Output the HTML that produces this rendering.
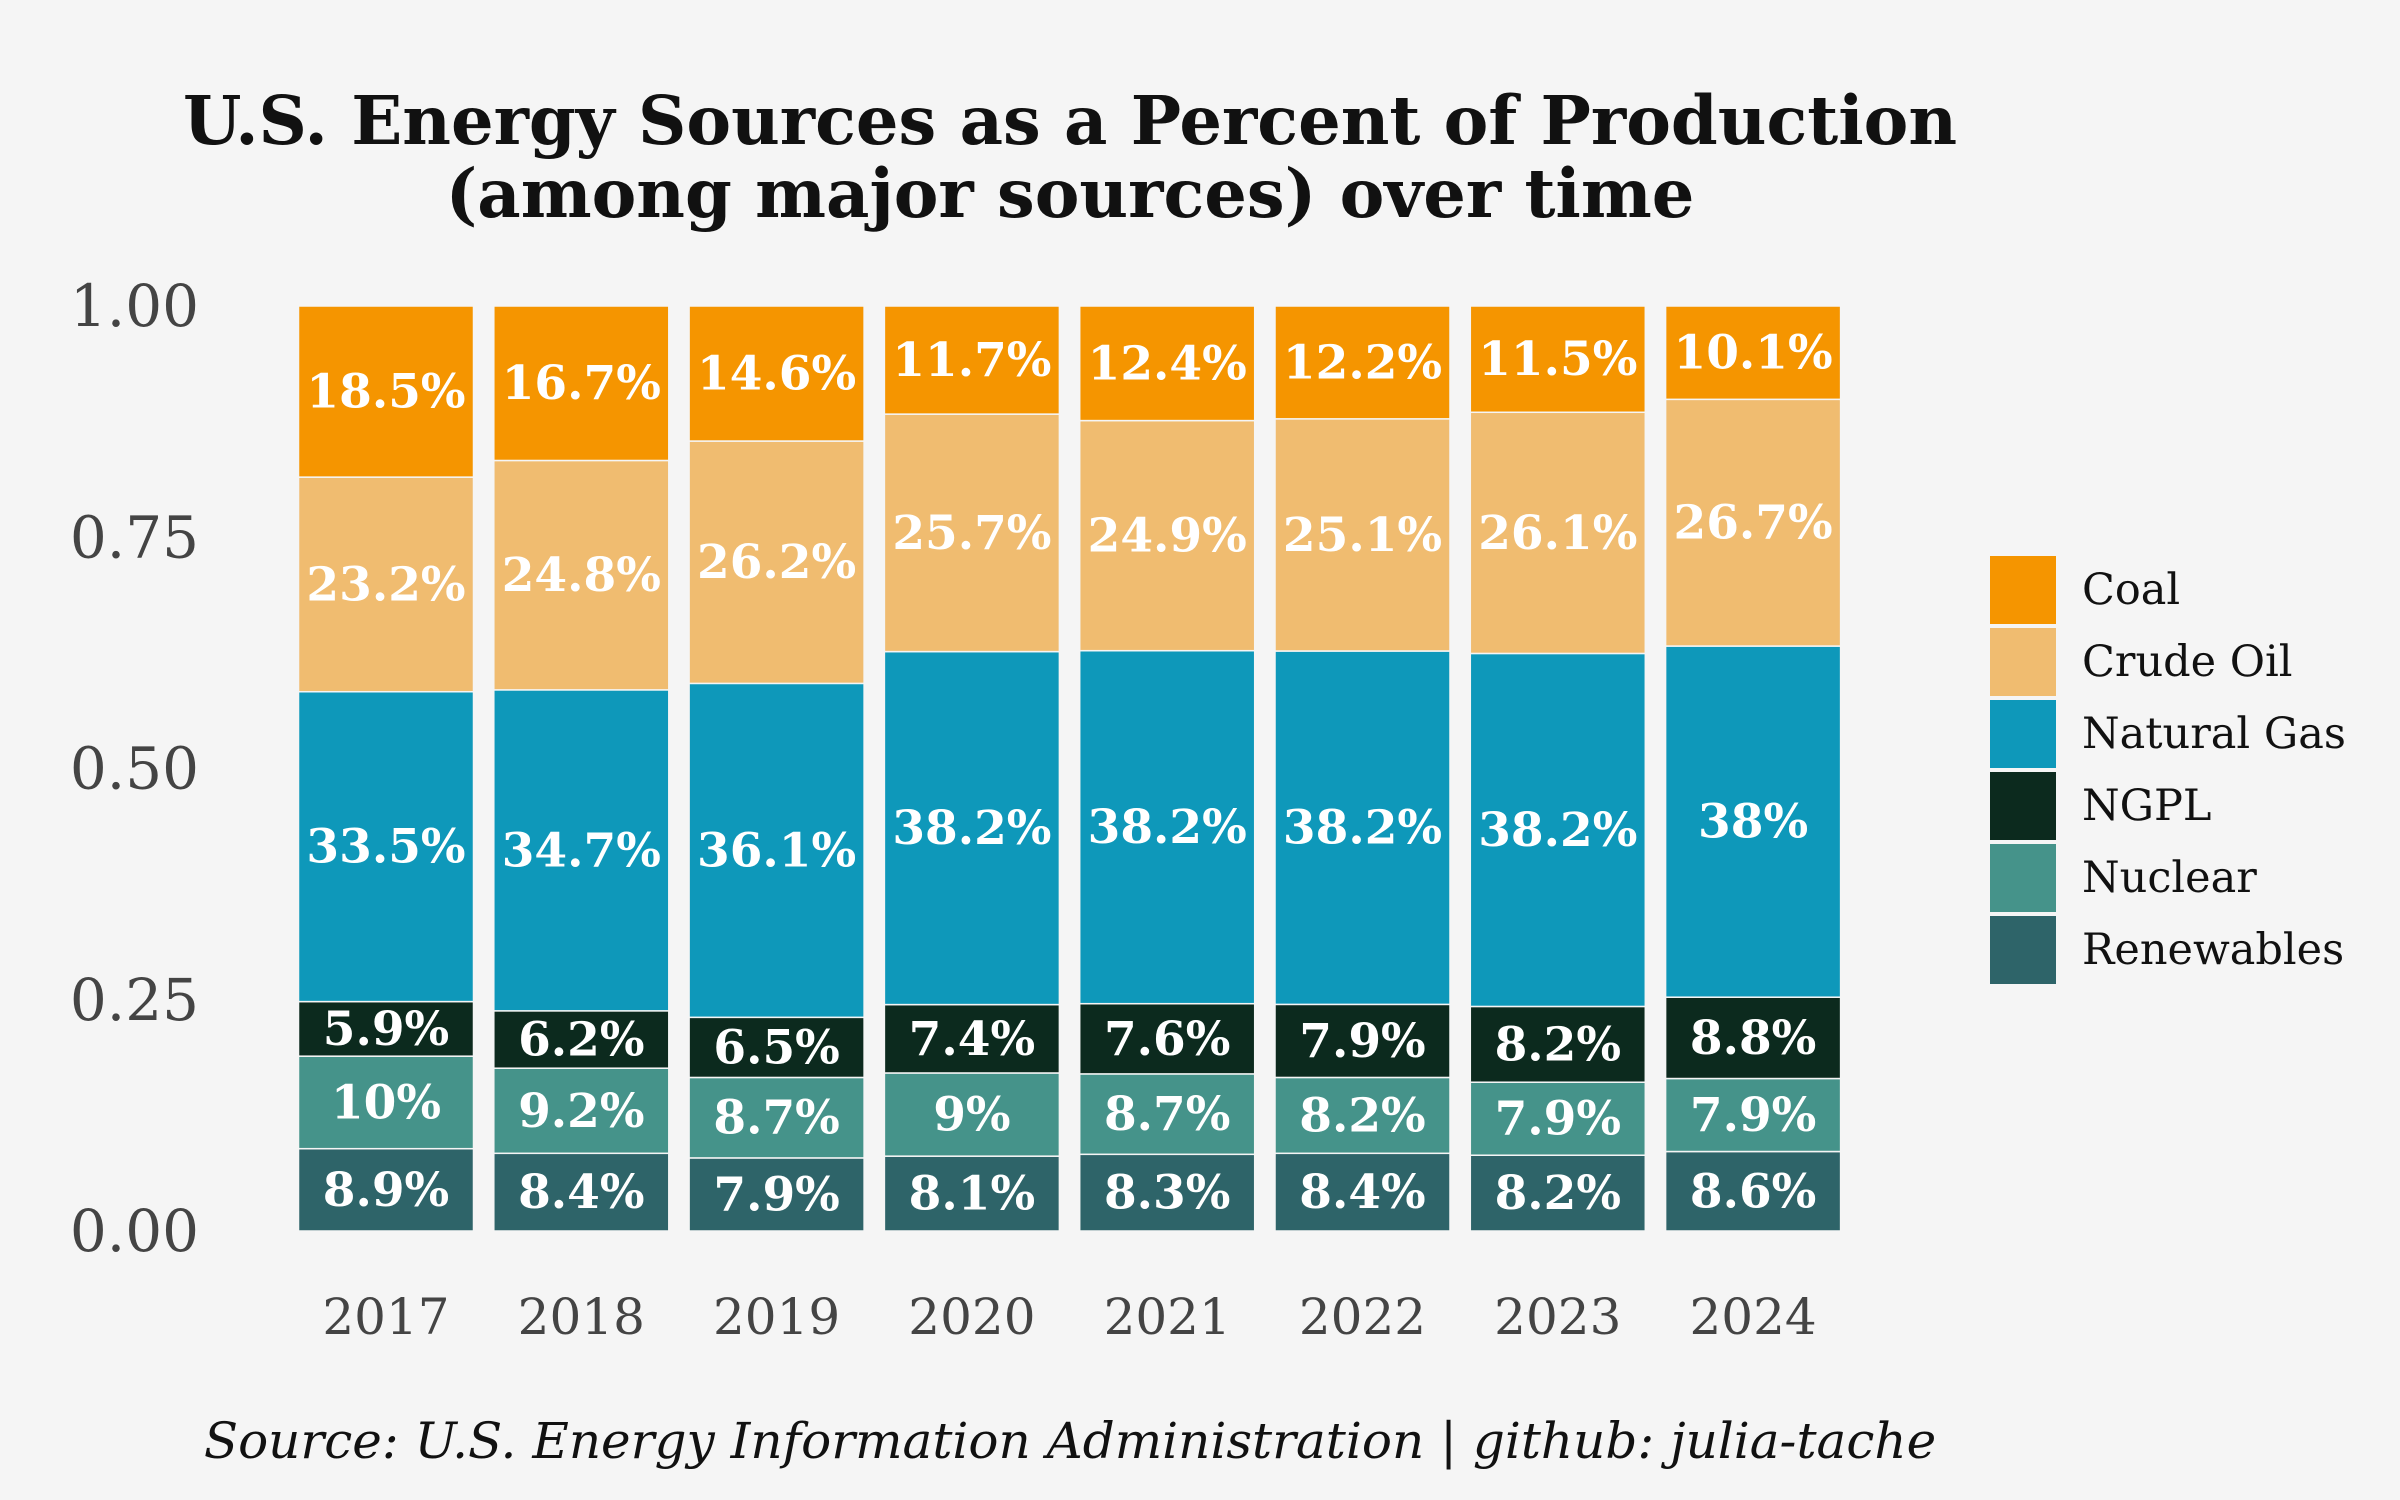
<!DOCTYPE html>
<html><head><meta charset="utf-8"><style>
html,body{margin:0;padding:0;background:#f5f5f5;}
svg{display:block;font-family:"DejaVu Serif","Liberation Serif",serif;}
</style></head><body>
<svg id="chart" width="2400" height="1500" viewBox="0 0 2400 1500">
<rect width="2400" height="1500" fill="#f5f5f5"/>
<text x="1070" y="144" text-anchor="middle" font-size="67" font-weight="bold" fill="#111">U.S. Energy Sources as a Percent of Production</text>
<text x="1070" y="217" text-anchor="middle" font-size="67" font-weight="bold" fill="#111">(among major sources) over time</text>
<g id="yaxis"></g>
<g id="bars"></g>
<g id="xaxis"></g>
<g id="legend"></g>
<text x="1070" y="1458" text-anchor="middle" font-size="50" font-style="italic" fill="#111">Source: U.S. Energy Information Administration | github: julia-tache</text>
</svg>
<script>
const years = ["2017","2018","2019","2020","2021","2022","2023","2024"];
const seriesNames = ["Renewables","Nuclear","NGPL","Natural Gas","Crude Oil","Coal"];
const renewables = [8.9,8.4,7.9,8.1,8.3,8.4,8.2,8.6];
const nuclear = [10,9.2,8.7,9,8.7,8.2,7.9,7.9];
const ngpl = [5.9,6.2,6.5,7.4,7.6,7.9,8.2,8.8];
const naturalGas = [33.5,34.7,36.1,38.2,38.2,38.2,38.2,38];
const crudeOil = [23.2,24.8,26.2,25.7,24.9,25.1,26.1,26.7];
const coal = [18.5,16.7,14.6,11.7,12.4,12.2,11.5,10.1];
const yTicks = [0,0.25,0.5,0.75,1.0];
const yTickLabels = ["0.00","0.25","0.50","0.75","1.00"];

const colors = ["#2e6469","#45938a","#0c2a1e","#0e98ba","#f0bc70","#f59500"];
const series = [renewables,nuclear,ngpl,naturalGas,crudeOil,coal];
const NS="http://www.w3.org/2000/svg";
const y0=1231, y1=306;
const yScale = v => y0 - v*(y0-y1);
const xCenter = i => 386 + i*195.3;
const barW = 175;
function mk(tag, attrs, parent){const e=document.createElementNS(NS,tag);for(const k in attrs)e.setAttribute(k,attrs[k]);parent.appendChild(e);return e;}
const yA=document.getElementById('yaxis'), bG=document.getElementById('bars'), xA=document.getElementById('xaxis'), lg=document.getElementById('legend');
yTicks.forEach((t,i)=>{
  const e=mk('text',{x:199,y:yScale(t)+20,'text-anchor':'end','font-size':58,fill:'#444'},yA);
  e.textContent=yTickLabels[i];
  
  
});
years.forEach((yr,i)=>{
  const tot=series.reduce((s,a)=>s+a[i],0);
  let cum=0;
  series.forEach((arr,s)=>{
    const v=arr[i];
    const top=yScale((cum+v)/tot), bot=yScale(cum/tot);
    const r=mk('rect',{x:xCenter(i)-barW/2,y:top,width:barW,height:bot-top,fill:colors[s],stroke:'#f5f5f5','stroke-width':1.5},bG);
    
    
    const t=mk('text',{x:xCenter(i),y:(top+bot)/2+16,'text-anchor':'middle','font-size':47,'font-weight':'bold',fill:'#fff'},bG);
    t.textContent=(Math.round(v*10)/10)+'%';
    
    
    cum+=v;
  });
  const xl=mk('text',{x:xCenter(i),y:1334,'text-anchor':'middle','font-size':50,fill:'#444'},xA);
  xl.textContent=yr;
  
  
});
const legOrder=[5,4,3,2,1,0];
legOrder.forEach((s,k)=>{
  const y=556+k*72;
  const r=mk('rect',{x:1990,y:y,width:66,height:68,fill:colors[s]},lg);
  
  
  const t=mk('text',{x:2082,y:y+48,'font-size':43,fill:'#111'},lg);
  t.textContent=seriesNames[s];
  
  
});
</script>
</body></html>
